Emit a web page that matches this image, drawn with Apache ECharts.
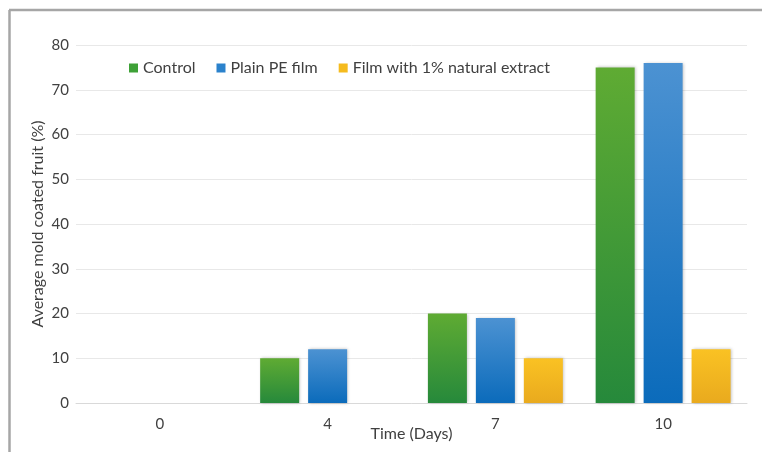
<!DOCTYPE html>
<html>
<head>
<meta charset="utf-8">
<script src="https://cdn.jsdelivr.net/npm/echarts@6/dist/echarts.min.js"></script>
<style>
  html, body { margin: 0; padding: 0; background: #ffffff; }
  #chart { width: 762px; height: 452px; }
</style>
</head>
<body>
<div id="chart"></div>
<script>
// Time points (days) and mold incidence per packaging treatment
const days = ['0', '4', '7', '10'];
const controlValues = [0, 10, 20, 75];
const plainPeValues = [0, 12, 19, 76];
const extractFilmValues = [0, 0, 10, 12];
const yTicks = [0, 10, 20, 30, 40, 50, 60, 70, 80];

const seriesNames = ['Control', 'Plain PE film', 'Film with 1% natural extract'];
const FONT = 'Lato, "Open Sans", sans-serif';

function vGrad(top, bottom) {
  return new echarts.graphic.LinearGradient(0, 0, 0, 1, [
    { offset: 0, color: top },
    { offset: 1, color: bottom }
  ]);
}

const barStyle = (top, bottom) => ({
  color: vGrad(top, bottom),
  shadowColor: 'rgba(0,0,0,0.25)',
  shadowBlur: 3,
  shadowOffsetX: 1,
  shadowOffsetY: 0
});

const chart = echarts.init(document.getElementById('chart'), null, { renderer: 'canvas' });

chart.setOption({
  backgroundColor: '#ffffff',
  animation: false,
  textStyle: { fontFamily: FONT },
  graphic: [
    // frame around the figure (top and left edges)
    { type: 'line', shape: { x1: 9, y1: 10, x2: 762, y2: 10 }, style: { stroke: '#a6a6a6', lineWidth: 2.5 } },
    { type: 'line', shape: { x1: 9.5, y1: 10, x2: 9.5, y2: 452 }, style: { stroke: '#a6a6a6', lineWidth: 2.5 } }
  ],
  legend: {
    left: 124,
    top: 55,
    itemWidth: 9,
    itemHeight: 9,
    itemGap: 21,
    icon: 'rect',
    textStyle: { fontFamily: FONT, fontSize: 16, color: '#404040' },
    data: seriesNames.map((n, i) => ({
      name: n,
      itemStyle: { color: ['#3ea137', '#2b82cc', '#f5bb1e'][i], shadowBlur: 0 }
    }))
  },
  grid: { left: 76, right: 15, top: 45, bottom: 49, containLabel: false, outerBoundsMode: 'none' },
  xAxis: {
    type: 'category',
    data: days,
    name: 'Time (Days)',
    nameLocation: 'middle',
    nameGap: 23,
    nameMoveOverlap: false,
    nameTextStyle: { fontFamily: FONT, fontSize: 16, color: '#404040' },
    axisLine: { show: true, lineStyle: { color: '#d9d9d9', width: 1 } },
    axisTick: { show: false },
    axisLabel: { fontFamily: FONT, fontSize: 15, color: '#404040', margin: 14 }
  },
  yAxis: {
    type: 'value',
    min: yTicks[0],
    max: yTicks[yTicks.length - 1],
    interval: 10,
    name: 'Average mold coated fruit (%)',
    nameLocation: 'middle',
    nameGap: 30,
    nameMoveOverlap: false,
    nameRotate: 90,
    nameTextStyle: { fontFamily: FONT, fontSize: 16, color: '#404040' },
    axisLine: { show: false },
    axisTick: { show: false },
    axisLabel: { fontFamily: FONT, fontSize: 15, color: '#404040', margin: 7 },
    splitLine: { lineStyle: { color: '#e8e8e8', width: 1 } }
  },
  series: [
    {
      name: seriesNames[0],
      type: 'bar',
      data: controlValues,
      barWidth: 39,
      barGap: '23%',
      itemStyle: barStyle('#5fab33', '#26893b')
    },
    {
      name: seriesNames[1],
      type: 'bar',
      data: plainPeValues,
      barWidth: 39,
      barGap: '23%',
      itemStyle: barStyle('#4c92d2', '#0b6bbb')
    },
    {
      name: seriesNames[2],
      type: 'bar',
      data: extractFilmValues,
      barWidth: 39,
      barGap: '23%',
      itemStyle: barStyle('#fac223', '#e9aa1e')
    }
  ]
});
</script>
</body>
</html>
